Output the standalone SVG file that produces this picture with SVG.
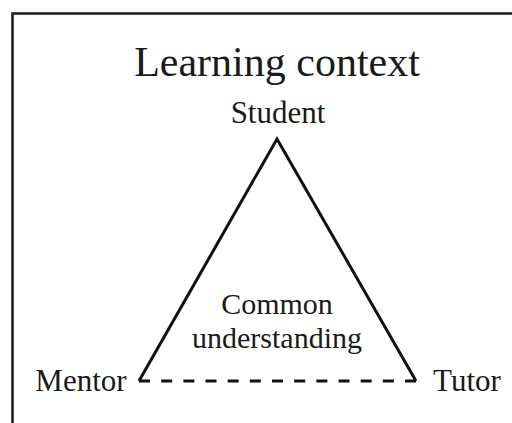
<svg xmlns="http://www.w3.org/2000/svg" width="512" height="423" viewBox="0 0 512 423">
<style>
.t{font-family:"Liberation Serif","Times New Roman",serif;fill:#1a1a1a;text-anchor:middle}
.s{font-size:31px}
.c{font-size:30px}
.edge{stroke:#111;stroke-width:3;fill:none;stroke-linejoin:miter}
</style>
<rect width="512" height="423" fill="#fff"/>
<g id="frame">
<path d="M12.5,423 V13.5 H512" fill="none" stroke="#1a1a1a" stroke-width="2.5"/>
</g>
<text class="t" x="277" y="76" font-size="42">Learning context</text>
<g id="connectors">
<path class="edge" d="M139,381 L277,139 L416,381"/>
<line class="edge" x1="139" y1="381" x2="416" y2="381" stroke-dasharray="11 11.17"/>
</g>
<g id="student"><text class="t s" x="278" y="123">Student</text></g>
<g id="mentor"><text class="t s" x="81" y="391">Mentor</text></g>
<g id="tutor"><text class="t s" x="467" y="391">Tutor</text></g>
<g id="common"><text class="t c" x="277" y="314">Common</text><text class="t c" x="277" y="348">understanding</text></g>
</svg>
